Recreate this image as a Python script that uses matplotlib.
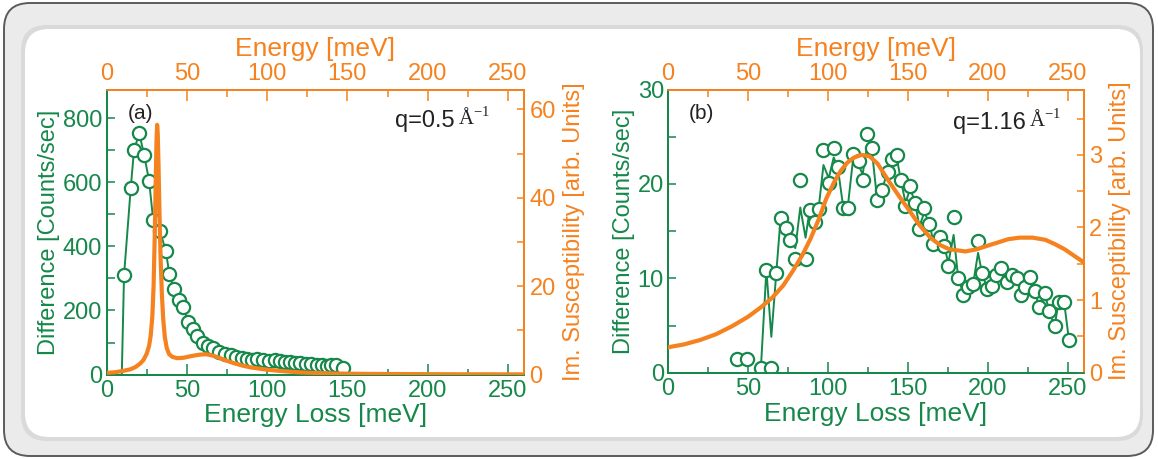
import matplotlib
matplotlib.use("Agg")
import matplotlib.pyplot as plt
import numpy as np
from matplotlib.patches import FancyBboxPatch
from matplotlib.transforms import IdentityTransform
from matplotlib.ticker import MultipleLocator

# ---------------- data ----------------
# Panel (a): q = 0.5 1/A
a_pts_x = [10.9, 15.1, 17.1, 20.4, 23.5, 26.5, 29.1, 33.3, 36.9, 39.1, 42.0, 45.0,
           47.8, 50.9, 53.7, 56.5, 59.9, 63.4, 66.5, 70.2, 73.8, 77.3, 80.6, 84.2,
           87.3, 90.4, 93.9, 97.2, 101.4, 104.9, 108.0, 111.1, 114.2, 117.3, 120.4,
           124.1, 127.6, 130.8, 133.9, 137.0, 140.1, 143.2, 147.0]
a_pts_y = [310, 584, 701, 753, 684, 605, 481, 447, 387, 314, 268, 232,
           211, 163, 142, 121, 97, 88, 83, 70, 65, 62, 55, 52,
           49, 45, 47, 44, 42, 44, 41, 39, 38, 36, 36,
           33, 32, 30, 29, 28, 30, 29, 21]
a_line_x = [9.5] + a_pts_x
a_line_y = [0] + a_pts_y

a_chi_x = [0, 5, 10, 15, 18, 21, 23, 25, 26.5, 27.5, 28.5, 29.3, 30, 30.6, 31.1, 31.5,
           31.9, 32.4, 33, 33.7, 34.5, 35.3, 36.3, 37.5, 39, 41, 44, 48, 53, 58, 62,
           66, 70, 75, 80, 85, 90, 100, 110, 120, 130, 140, 160, 190, 220, 260]
a_chi_y = [0.4, 0.5, 0.8, 1.2, 1.7, 2.5, 3.3, 4.7, 6.5, 8.8, 13, 20, 31, 43, 52.5, 56.5,
           54.5, 47, 36, 26, 18, 12.5, 8.5, 6.0, 4.6, 4.0, 3.7, 3.8, 4.2, 4.5, 4.6,
           4.3, 3.8, 3.1, 2.5, 2.0, 1.6, 1.1, 0.75, 0.5, 0.35, 0.25, 0.15, 0.1, 0.06, 0.04]

# Panel (b): q = 1.16 1/A
b_pts_x = [43.2, 49.6, 57.9, 61.5, 64.6, 67.7, 70.4, 73.5, 76.4, 79.6, 82.7, 86.0,
           88.5, 91.6, 94.1, 97.2, 100.5, 103.6, 106.1, 109.2, 112.3, 115.5, 119.2,
           121.7, 124.4, 127.5, 130.6, 133.8, 137.3, 140.0, 143.0, 145.6, 148.5,
           151.5, 154.5, 157.2, 160.3, 163.5, 166.0, 170.0, 172.8, 175.3, 178.6,
           181.5, 184.5, 187.5, 190.8, 193.9, 196.3, 199.6, 202.7, 205.2, 208.4,
           211.7, 215.0, 218.3, 221.0, 223.3, 226.4, 229.3, 232.0, 235.5, 238.5,
           241.7, 244.3, 247.7, 250.7]
b_pts_y = [1.4, 1.4, 0.5, 10.9, 0.5, 10.6, 16.4, 15.3, 14.1, 12.0, 20.4, 12.0,
           17.2, 16.0, 17.3, 23.6, 20.1, 23.8, 21.8, 17.5, 17.4, 23.2, 22.4,
           20.4, 25.3, 23.8, 18.3, 19.4, 21.3, 22.6, 23.1, 20.4, 17.7,
           19.8, 18.0, 15.2, 17.5, 15.8, 13.6, 14.4, 13.4, 11.3, 16.5,
           10.0, 8.2, 9.1, 9.4, 13.9, 10.6, 8.9, 9.2, 10.3, 11.1,
           9.6, 10.3, 10.0, 8.2, 9.1, 10.1, 8.7, 7.0, 8.4, 6.5,
           4.9, 7.5, 7.5, 3.5]
b_line_x = [57.9, 61.5, 64.6, 67.7, 70.4, 73.5, 76.4, 79.6, 82.7, 86.0,
            88.5, 91.6, 94.1, 97.2, 100.5, 103.6, 106.1, 109.2, 112.3, 115.5, 119.2,
            121.7, 124.4, 127.5, 130.6, 133.8, 137.3, 140.0, 143.0, 145.6, 148.5,
            151.5, 154.5, 157.2, 160.3, 163.5, 166.0, 170.0, 172.8, 175.3, 178.6,
            181.5, 184.5, 187.5, 190.8, 193.9, 196.3, 199.6, 202.7, 205.2, 208.4,
            211.7, 215.0, 218.3, 221.0, 223.3, 226.4, 229.3, 232.0, 235.5, 238.5,
            241.7, 244.3, 247.7, 250.7]
b_line_y = [0.0, 10.9, 3.8, 10.6, 16.4, 15.3, 14.1, 13.2, 17.5, 14.3,
            17.2, 16.0, 17.3, 22.0, 20.6, 22.8, 21.8, 18.0, 17.4, 22.3, 22.0,
            21.0, 24.0, 23.5, 18.6, 19.4, 21.3, 22.6, 22.8, 20.4, 18.0,
            19.5, 18.0, 15.5, 17.0, 15.8, 13.8, 14.4, 13.4, 11.6, 14.6,
            10.0, 8.5, 9.1, 9.4, 12.7, 10.6, 8.9, 9.2, 10.3, 11.1,
            9.6, 10.3, 10.0, 8.2, 9.1, 10.1, 8.7, 7.0, 8.4, 6.5,
            4.9, 7.5, 7.5, 3.5]

b_chi_x = [0, 10, 20, 30, 40, 50, 58, 65, 72, 78, 84, 89, 94, 99, 104, 108, 112, 116,
           121, 126, 131, 138, 144.5, 151, 157, 164, 170, 176, 186, 193, 200, 213,
           220, 228, 236, 242, 248, 254, 260]
b_chi_y = [0.35, 0.39, 0.45, 0.53, 0.64, 0.77, 0.90, 1.03, 1.20, 1.40, 1.62, 1.84,
           2.10, 2.40, 2.63, 2.78, 2.89, 2.96, 3.00, 2.98, 2.88, 2.64, 2.43, 2.23,
           2.04, 1.86, 1.76, 1.70, 1.67, 1.70, 1.75, 1.84, 1.86, 1.86, 1.83, 1.77,
           1.70, 1.61, 1.52]

GREEN = "#15884a"
ORANGE = "#f5821f"
FONT = ["Liberation Sans", "DejaVu Sans"]
plt.rcParams["font.family"] = FONT

W, H = 1158, 459
fig = plt.figure(figsize=(W / 100, H / 100), dpi=100, facecolor="white")

# ---------------- frame ----------------
def rbox(x0, ytop, x1, ybot, r, fc, ec, lw, z):
    p = FancyBboxPatch((x0 + r, H - ybot + r), (x1 - x0) - 2 * r, (ybot - ytop) - 2 * r,
                       boxstyle=f"round,pad={r},rounding_size={r}",
                       transform=IdentityTransform(), facecolor=fc, edgecolor=ec,
                       linewidth=lw, zorder=z)
    fig.add_artist(p)

rbox(4, 3, 1153, 456, 26, "#ebebeb", "#5b5b5b", 1.4, -10)
rbox(21, 25, 1143, 441, 26, "#dadada", "none", 0, -9)
rbox(25, 29, 1140, 437, 24, "white", "none", 0, -8)

LBL = 17
TICK = 17


def make_panel(rect, pts_x, pts_y, line_x, line_y, chi_x, chi_y,
               ylim, ymaj, ymin, rylim, rmaj, rmin, tag, qtext, qpos):
    ax = fig.add_axes(rect)
    ax.patch.set_alpha(0)
    axr = ax.twinx()
    axt = ax.twiny()
    for a in (ax, axr, axt):
        a.set_xlim(0, 260)
    ax.set_ylim(*ylim)
    axr.set_ylim(*rylim)

    ax.plot(line_x, line_y, color=GREEN, lw=1.4, zorder=3, clip_on=True)
    ax.plot(pts_x, pts_y, ls="none", marker="o", ms=9.5, mfc="white",
            mec=GREEN, mew=1.6, zorder=4)
    axr.plot(chi_x, chi_y, color=ORANGE, lw=3.0, zorder=5)
    axr.set_zorder(ax.get_zorder() + 1)
    axr.patch.set_visible(False)

    # spines
    for a in (ax, axr, axt):
        a.spines["left"].set_color(GREEN)
        a.spines["bottom"].set_color(GREEN)
        a.spines["top"].set_color(ORANGE)
        a.spines["right"].set_color(ORANGE)
        for s in a.spines.values():
            s.set_linewidth(1.2)

    ax.xaxis.set_major_locator(MultipleLocator(50))
    ax.xaxis.set_minor_locator(MultipleLocator(25))
    ax.yaxis.set_major_locator(MultipleLocator(ymaj))
    ax.yaxis.set_minor_locator(MultipleLocator(ymin))
    ax.tick_params(axis="both", which="both", direction="in", colors=GREEN,
                   labelsize=TICK, top=False, right=False)
    ax.tick_params(axis="x", which="major", length=8, width=1.1, pad=4)
    ax.tick_params(axis="x", which="minor", length=4, width=1.1)
    ax.tick_params(axis="y", which="major", length=6, width=1.1, pad=3)
    ax.tick_params(axis="y", which="minor", length=6, width=1.1)

    axt.xaxis.set_major_locator(MultipleLocator(50))
    axt.xaxis.set_minor_locator(MultipleLocator(25))
    axt.tick_params(axis="x", which="both", direction="in", colors=ORANGE,
                    labelsize=TICK)
    axt.tick_params(axis="x", which="major", length=8, width=1.1, pad=3)
    axt.tick_params(axis="x", which="minor", length=5, width=1.1)

    axr.yaxis.set_major_locator(MultipleLocator(rmaj))
    axr.yaxis.set_minor_locator(MultipleLocator(rmin))
    axr.tick_params(axis="y", which="both", direction="in", colors=ORANGE,
                    labelsize=TICK, length=5, width=1.1, pad=4)

    ax.set_xlabel("Energy Loss [meV]", color=GREEN, fontsize=LBL + 2, labelpad=1)
    ax.set_ylabel("Difference [Counts/sec]", color=GREEN, fontsize=LBL, labelpad=2)
    axt.set_xlabel("Energy [meV]", color=ORANGE, fontsize=LBL + 2, labelpad=5)
    axr.set_ylabel("Im. Susceptibility [arb. Units]", color=ORANGE, fontsize=LBL,
                   labelpad=5)

    ax.text(0.05, 0.915, tag, transform=ax.transAxes, fontsize=15, color="#222222",
            va="center", ha="left")
    ax.text(qpos[0], qpos[1], qtext, transform=ax.transAxes, fontsize=17,
            color="#222222", va="center", ha="right")
    ax.text(qpos[0] + 0.008, qpos[1] + 0.01, r"Å$^{\mathregular{-1}}$",
            transform=ax.transAxes, fontsize=15, color="#222222", va="center",
            ha="left", family=["Liberation Serif", "DejaVu Serif"])
    return ax


make_panel([0.092, 0.184, 0.3605, 0.621], a_pts_x, a_pts_y, a_line_x, a_line_y,
           a_chi_x, a_chi_y, (0, 890), 200, 100, (0, 64.5), 20, 10,
           "(a)", "q=0.5", (0.835, 0.89))
make_panel([0.5769, 0.188, 0.359, 0.617], b_pts_x, b_pts_y, b_line_x, b_line_y,
           b_chi_x, b_chi_y, (0, 30), 10, 5, (0, 3.9), 1, 0.5,
           "(b)", "q=1.16", (0.86, 0.88))

fig.savefig("out.png", dpi=100, facecolor="white")
